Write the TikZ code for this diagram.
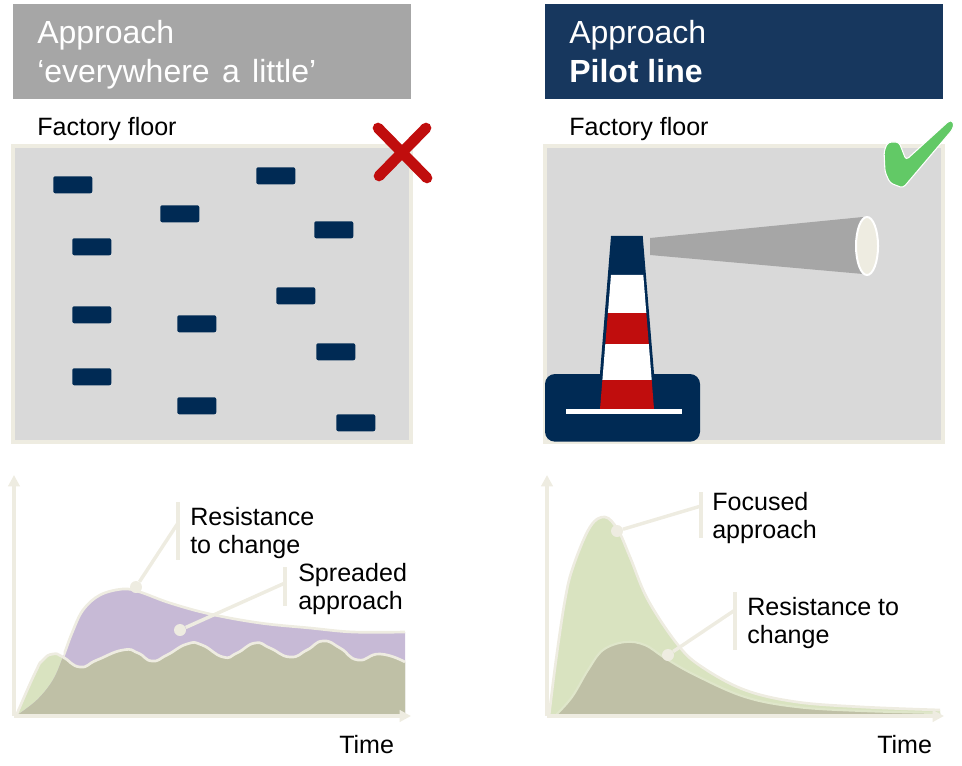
\documentclass[tikz,border=0pt]{standalone}
\usepackage{fontspec}
\setmainfont{Liberation Sans}
\usetikzlibrary{arrows.meta}
\definecolor{beigeln}{HTML}{EEECE1}
\definecolor{panelgray}{HTML}{D9D9D9}
\definecolor{headgray}{HTML}{A6A6A6}
\definecolor{headnavy}{HTML}{17375E}
\definecolor{navy}{HTML}{002A54}
\definecolor{signalred}{HTML}{C00D0D}
\definecolor{checkgreen}{HTML}{62C966}
\definecolor{softgreen}{HTML}{D9E3C0}
\definecolor{softpurple}{HTML}{C7BAD6}
\definecolor{olive}{HTML}{BFC0A6}
\tikzset{
  x=0.75pt,y=-0.75pt,
  headbox/.style={draw=none,minimum width=298.5pt,minimum height=71.25pt,inner sep=0pt,anchor=north west},
  headtext/.style={text=white,font=\fontsize{24}{29.25}\selectfont,anchor=north west,inner sep=0pt,align=left},
  bodytext/.style={text=black,font=\fontsize{18.8}{20.7}\selectfont,anchor=north west,inner sep=0pt,align=left},
  floorpanel/.style={fill=panelgray,draw=beigeln,line width=3pt},
  machine/.style={fill=navy,rounded corners=1.5pt,draw=none,minimum width=29.25pt,minimum height=12.75pt,inner sep=0pt,anchor=north west},
  axisline/.style={draw=beigeln,line width=2.6pt,-{Triangle[width=8.5pt,length=8.5pt]}},
  curveedge/.style={draw=beigeln,line width=2pt},
  softedge/.style={draw=softgreen!70!beigeln,line width=1.6pt},
  leaderbar/.style={draw=beigeln,line width=3pt},
  leaderline/.style={draw=beigeln,line width=2.6pt},
  leaderdot/.style={circle,fill=beigeln,draw=none,minimum size=9pt,inner sep=0pt},
}
\newcommand{\wavecurve}{plot[smooth,tension=.9] coordinates {(16,716)(35,673)(43,660)(53,654)(63,657)(80,667)(97,660)(123,650)(138,653)(152,661)(167,655)(187,644)(202,645)(223,657)(237,653)(255,643)(270,648)(290,657)(307,650)(323,641)(340,648)(358,660)(380,654)(405,662)}}
\newcommand{\purplecurve}{plot[smooth,tension=.6] coordinates {(16,716)(37,700)(53,680)(63,657)(72,633)(83,610)(100,595)(123,589)(140,592)(170,603)(210,614)(260,623)(310,628)(353,632)(405,632)}}
\newcommand{\focuscurve}{plot[smooth,tension=.6] coordinates {(549,716)(556,660)(565,600)(573,567)(590,527)(605,517)(618,530)(630,557)(648,600)(678,645)(702,667)(745,690)(797,702)(863,707)(940,710)}}
\newcommand{\resistcurve}{plot[smooth,tension=.6] coordinates {(555,716)(572,697)(588,670)(603,650)(625,642)(645,645)(665,658)(695,675)(745,697)(797,707)(863,711)(940,713)}}
\begin{document}
\begin{tikzpicture}
\useasboundingbox (0,0) rectangle (962,766);
% headers
\node[headbox,fill=headgray] (headL) at (13,4) {};
\node[headbox,fill=headnavy] (headR) at (545,4) {};
\node[headtext] (titleL) at (37,20.5) {Approach\\‘everywhere\hspace{2.6pt} a\hspace{2.6pt} little’};
\node[headtext] (titleR) at (569,20.5) {Approach\\\textbf{Pilot line}};
\node[bodytext] (floorL) at (37,117) {Factory floor};
\node[bodytext] (floorR) at (569,117) {Factory floor};
% panels
\draw[floorpanel] (13,146) rectangle (411,442);
\draw[floorpanel] (545,146) rectangle (943,442);
% machines
\foreach \n/\a/\b in {1/53/176,2/256/167,3/160/205,4/314/221,5/72/238,6/276/287,7/72/306,8/177/315,9/316/343,10/72/368,11/177/397,12/336/414}
  \node[machine] (m\n) at (\a,\b) {};
% cross
\draw[signalred,line width=8pt,line cap=round] (378,128) -- (427,178) (426,128) -- (379,176);
% check
\draw[white,line width=0.8pt,fill=checkgreen,rounded corners=2.5pt] (884,151) -- (888,142) -- (899,142) -- (906,160) -- (950,120) -- (954,122) -- (953,129) -- (903,188) -- (890,183) -- (885,172) -- cycle;
% lighthouse
\fill[navy,rounded corners=7.5pt] (545,374) rectangle (700,441.7);
\fill[navy] (611,236) -- (642.7,236) -- (654,373.3) -- (654,409) -- (600,409) -- (600,373.3) -- cycle;
\fill[white] (611,275) -- (643.3,275) -- (646.3,313) -- (607.9,313) -- cycle;
\fill[signalred] (607.9,313) -- (646.3,313) -- (648.8,344) -- (605.3,344) -- cycle;
\fill[white] (605.3,344) -- (648.8,344) -- (651.7,380) -- (602.4,380) -- cycle;
\fill[signalred] (602.4,380) -- (651.7,380) -- (654,409) -- (600,409) -- cycle;
\fill[white] (566,409) rectangle (682,414);
\fill[headgray] (650,238) -- (863,217) -- (863,274) -- (650,255) -- cycle;
\draw[white,line width=1.5pt,fill=beigeln] (867,246) ellipse [x radius=11,y radius=29];
% left chart
\fill[softgreen] \wavecurve -- (405,716) -- cycle;
\fill[softpurple] \purplecurve -- (405,716) -- cycle;
\begin{scope}
  \clip \purplecurve -- (405,716) -- cycle;
  \fill[olive] \wavecurve -- (405,716) -- cycle;
\end{scope}
\draw[curveedge] \wavecurve;
\begin{scope}
  \clip (63.5,500) rectangle (407,720);
  \draw[curveedge] \purplecurve;
\end{scope}
\coordinate (originL) at (14,716);
\coordinate (topL) at (14,475);
\coordinate (endL) at (411,716);
\draw[axisline] (originL) -- (topL);
\draw[axisline] (originL) -- (endL);
% right chart
\fill[softgreen] \focuscurve -- (940,716) -- cycle;
\fill[olive] \resistcurve -- (940,716) -- cycle;
\draw[curveedge] \focuscurve;
\draw[softedge] \resistcurve;
\coordinate (originR) at (547,716);
\coordinate (topR) at (547,475);
\coordinate (endR) at (944,716);
\draw[axisline] (originR) -- (topR);
\draw[axisline] (originR) -- (endR);
% callouts
\node[bodytext] (resL) at (190,507) {Resistance\\to change};
\node[bodytext] (sprL) at (298,563) {Spreaded\\approach};
\node[bodytext] (focR) at (712,492) {Focused\\approach};
\node[bodytext] (resR) at (747,597) {Resistance to\\change};
\node[bodytext] (timeL) at (339,735) {Time};
\node[bodytext] (timeR) at (877,735) {Time};
\node[leaderdot] (dotA) at (136,587) {};
\node[leaderdot] (dotB) at (180,630) {};
\node[leaderdot] (dotC) at (617,531) {};
\node[leaderdot] (dotD) at (668,655) {};
\coordinate (barAt) at (178,502); \coordinate (barAb) at (178,560); \coordinate (barAm) at (178,523);
\coordinate (barBt) at (285,567); \coordinate (barBb) at (285,606); \coordinate (barBm) at (285,583);
\coordinate (barCt) at (701,492); \coordinate (barCb) at (701,538); \coordinate (barCm) at (701,506);
\coordinate (barDt) at (735,592); \coordinate (barDb) at (735,650); \coordinate (barDm) at (735,610);
\draw[leaderbar] (barAt) -- (barAb);
\draw[leaderbar] (barBt) -- (barBb);
\draw[leaderbar] (barCt) -- (barCb);
\draw[leaderbar] (barDt) -- (barDb);
\draw[leaderline] (barAm) -- (dotA);
\draw[leaderline] (barBm) -- (dotB);
\draw[leaderline] (barCm) -- (dotC);
\draw[leaderline] (barDm) -- (dotD);
\end{tikzpicture}
\end{document}
